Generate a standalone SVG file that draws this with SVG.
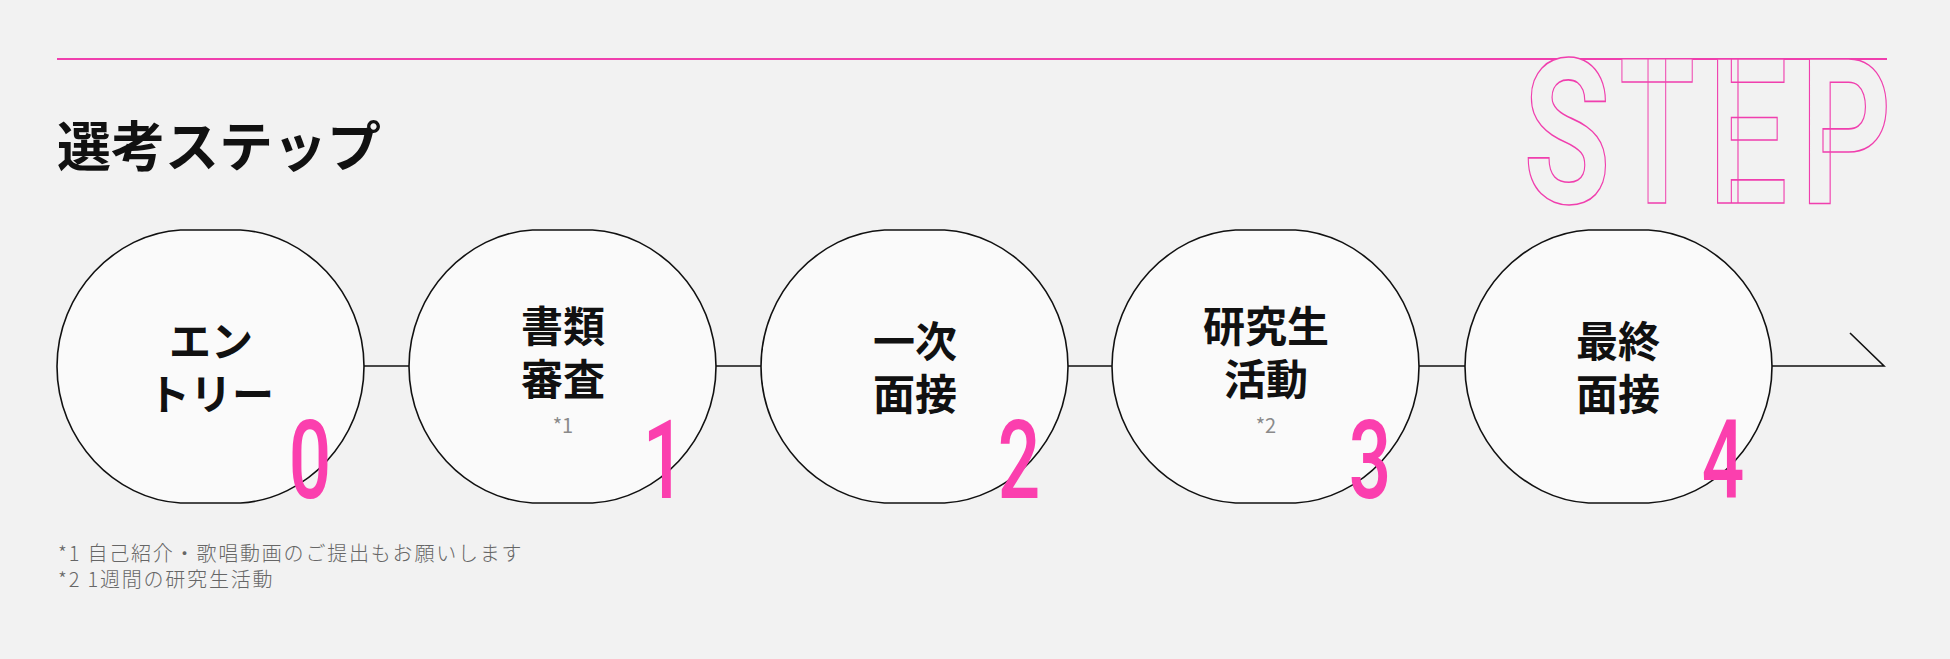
<svg xmlns="http://www.w3.org/2000/svg" width="1950" height="659" viewBox="0 0 1950 659">
<style>
.bg{fill:#f2f2f2}
.node{fill:#fafafa;stroke:#111;stroke-width:1.6}
.lbl{font-family:"Noto Sans CJK JP","Noto Sans",sans-serif;font-weight:700;font-size:42px;fill:#111;text-anchor:middle}
.sub{font-family:"Noto Sans CJK JP","Noto Sans",sans-serif;font-size:20px;fill:#8a8a8a;text-anchor:middle}
.num{font-family:Roboto,"Liberation Sans",sans-serif;font-weight:500;font-size:110px;fill:#fb3fae;text-anchor:middle}
.step{font-family:Roboto,"Liberation Sans",sans-serif;font-weight:700;font-size:202px;fill:#f2f2f2;stroke:#f03fae;stroke-width:1.6;text-anchor:middle}
.conn{stroke:#111;stroke-width:1.6;fill:none}
.title{font-family:"Noto Sans CJK JP","Noto Sans",sans-serif;font-weight:700;font-size:54px;fill:#111}
.note{font-family:"Noto Sans CJK JP","Noto Sans",sans-serif;font-weight:300;font-size:20px;fill:#666;letter-spacing:1.8px}
</style>
<defs>
<path id="oval" class="node" d="M-30,-136.5 L30,-136.5 C95,-133 153.5,-74 153.5,0 C153.5,74 95,133 30,136.5 L-30,136.5 C-95,133 -153.5,74 -153.5,0 C-153.5,-74 -95,-133 -30,-136.5 Z"/>
</defs>
<rect class="bg" x="0" y="0" width="1950" height="659"/>
<g id="header">
<line x1="57" y1="59" x2="1887" y2="59" stroke="#f03fae" stroke-width="2"/>
<text class="step" transform="translate(1567,203) scale(0.7,1)">S</text>
<text class="step" transform="translate(1657,203) scale(0.6,1)">T</text>
<text class="step" transform="translate(1748,203) scale(0.69,1)">E</text>
<text class="step" transform="translate(1846,203) scale(0.7,1)">P</text>
<text class="title" x="57" y="167">選考ステップ</text>
</g>
<g id="connectors">
<line class="conn" x1="364" y1="366" x2="409" y2="366"/>
<line class="conn" x1="716" y1="366" x2="761" y2="366"/>
<line class="conn" x1="1068" y1="366" x2="1112" y2="366"/>
<line class="conn" x1="1419" y1="366" x2="1465" y2="366"/>
<polyline class="conn" points="1772,366 1884,366 1850,333"/>
</g>
<g id="node0">
<use href="#oval" transform="translate(210.5,366.5)"/>
<text class="lbl" x="211" y="357">エン</text>
<text class="lbl" x="211" y="410">トリー</text>
<text class="num" transform="translate(310,498) scale(0.68,1)">0</text>
</g>
<g id="node1">
<use href="#oval" transform="translate(562.5,366.5)"/>
<text class="lbl" x="563" y="342">書類</text>
<text class="lbl" x="563" y="395">審査</text>
<text class="sub" x="563" y="433">*1</text>
<text class="num" transform="translate(664,498) scale(0.68,1)">1</text>
</g>
<g id="node2">
<use href="#oval" transform="translate(914.5,366.5)"/>
<text class="lbl" x="915" y="357">一次</text>
<text class="lbl" x="915" y="410">面接</text>
<text class="num" transform="translate(1019,498) scale(0.68,1)">2</text>
</g>
<g id="node3">
<use href="#oval" transform="translate(1265.5,366.5)"/>
<text class="lbl" x="1266" y="342">研究生</text>
<text class="lbl" x="1266" y="395">活動</text>
<text class="sub" x="1266" y="433">*2</text>
<text class="num" transform="translate(1370,498) scale(0.68,1)">3</text>
</g>
<g id="node4">
<use href="#oval" transform="translate(1618.5,366.5)"/>
<text class="lbl" x="1618" y="357">最終</text>
<text class="lbl" x="1618" y="410">面接</text>
<text class="num" transform="translate(1723,498) scale(0.68,1)">4</text>
</g>
<g id="notes">
<text class="note" x="58" y="561">*1 自己紹介・歌唱動画のご提出もお願いします</text>
<text class="note" x="58" y="587">*2 1週間の研究生活動</text>
</g>
</svg>
